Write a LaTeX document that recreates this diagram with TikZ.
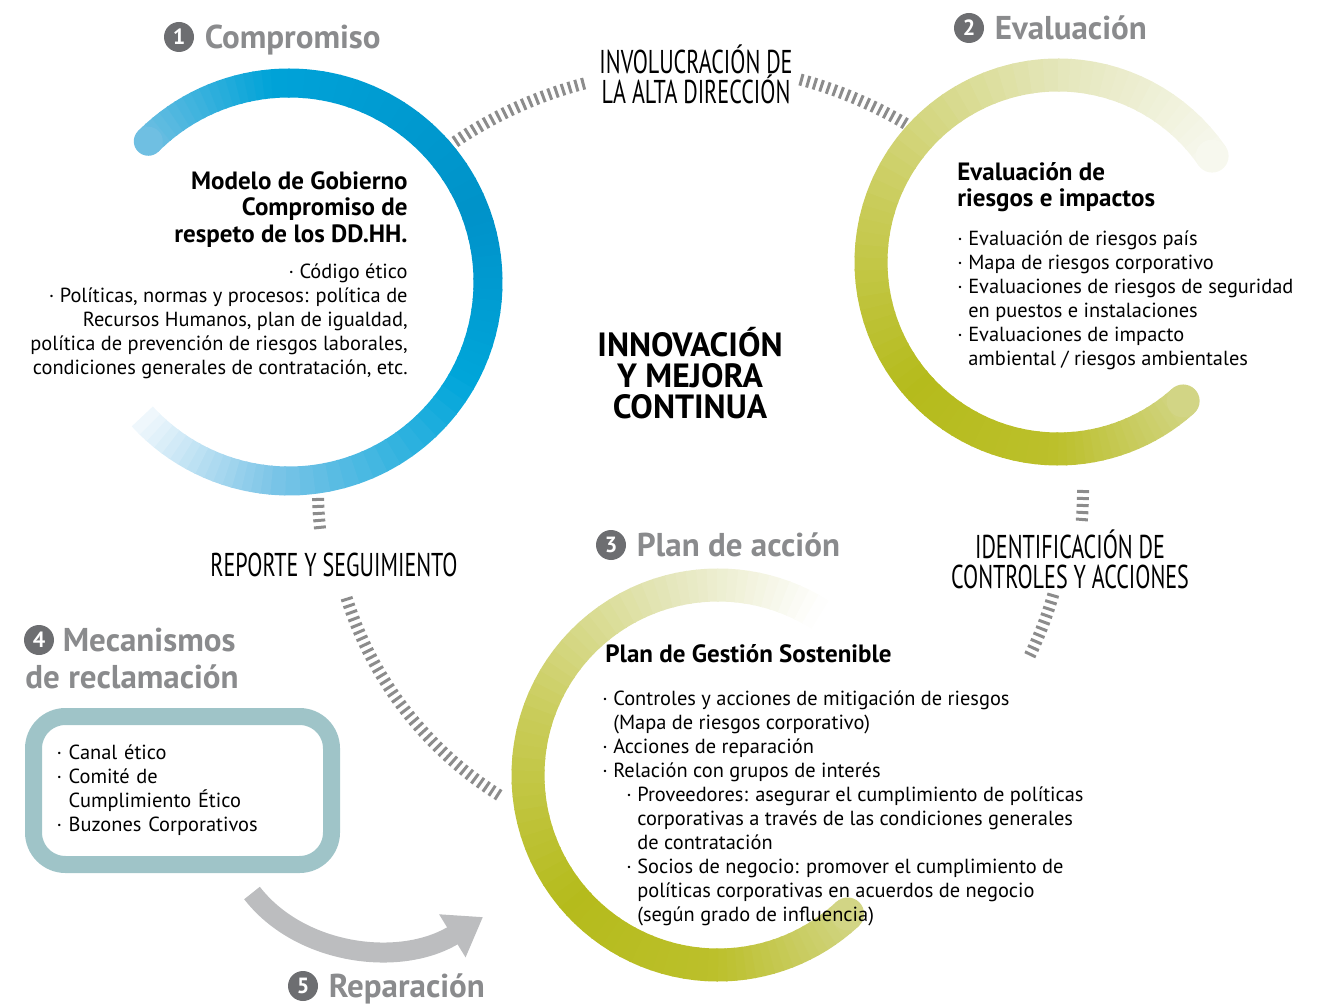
\documentclass[tikz,border=0pt]{standalone}
\usepackage{fontspec}
\setmainfont{PT Sans}
\newfontfamily\condfont[FakeStretch=0.67]{PT Sans}
\usetikzlibrary{arrows.meta,positioning}
\definecolor{blueA}{HTML}{6FBFE2}
\definecolor{blueB}{HTML}{00A3D8}
\definecolor{blueC}{HTML}{0092C9}
\definecolor{blueD}{HTML}{00A6DA}
\definecolor{blueE}{HTML}{7CC5E7}
\definecolor{blueF}{HTML}{F3F9FD}
\definecolor{greenA}{HTML}{D2D585}
\definecolor{greenB}{HTML}{BCC02C}
\definecolor{greenC}{HTML}{B5BB1C}
\definecolor{greenD}{HTML}{CACD5C}
\definecolor{greenE}{HTML}{E4E6BA}
\definecolor{greenF}{HTML}{F7F8EE}
\definecolor{titlegray}{HTML}{8A8B8D}
\definecolor{badgegray}{HTML}{6D6E71}
\definecolor{hatchgray}{HTML}{8C8C8C}
\definecolor{arrowgray}{HTML}{BCBDBF}
\definecolor{boxteal}{HTML}{9FC4C8}
\tikzset{
  hatch/.style={draw=hatchgray, line width=6pt, dash pattern=on 1.5pt off 2pt},
  ringseg/.style={line cap=butt},
  badge/.style={circle, fill=badgegray, text=white, minimum size=15pt, inner sep=0pt,
                font=\fontsize{11}{11}\selectfont\bfseries},
  title/.style={text=titlegray, inner sep=0pt, text height=11.5pt, text depth=0pt,
                font=\fontsize{16.5}{18}\selectfont\bfseries},
  headtext/.style={inner sep=0pt, font=\fontsize{12.5}{13.3}\selectfont\bfseries},
  bodytext/.style={inner sep=0pt, font=\fontsize{10.2}{12}\selectfont},
  steptext/.style={inner sep=0pt, align=center, font=\condfont\fontsize{16.5}{15}\selectfont},
  coretext/.style={inner sep=0pt, align=center, font=\fontsize{16.8}{15.5}\selectfont\bfseries},
  claimbox/.style={draw=boxteal, line width=8.5pt, rounded corners=16pt, align=left},
  reparrow/.style={-{Triangle[length=18pt,width=24pt]}, line width=10pt, draw=arrowgray}
}
% ring piece: centre, radius, from, to, colour from, colour to
\newcommand{\ringpart}[6]{%
  \foreach \k in {0,...,15}{
    \pgfmathsetmacro{\ta}{#3+(#4-#3)*\k/16}
    \pgfmathsetmacro{\tb}{#3+(#4-#3)*(\k+1)/16+0.5}
    \pgfmathtruncatemacro{\mix}{100-100*(\k+0.5)/16}
    \draw[ringseg, draw=#5!\mix!#6] ([shift={(\ta:#2)}]#1) arc[start angle=\ta, end angle=\tb, radius=#2];
  }}
\newcommand{\bul}{·\ }
\newcommand{\hang}{\phantom{\bul}}

\begin{document}
\begin{tikzpicture}[x=0.5pt, y=-0.5pt]
  \useasboundingbox (0,0) rectangle (1325,1004);
  \coordinate (hub) at (690,490);
  \coordinate (ring1) at (289,282);
  \coordinate (ring2) at (1058,262);
  \coordinate (ring3) at (718,775);

  % hatched links round the cycle
  \draw[hatch] ([shift={(-125:420)}]hub) arc[start angle=-125, end angle=-104, radius=420];
  \draw[hatch] ([shift={(-75:425)}]hub) arc[start angle=-75, end angle=-58, radius=425];
  \draw[hatch] ([shift={(0:393)}]hub) arc[start angle=0, end angle=5, radius=393];
  \draw[hatch] ([shift={(16:378)}]hub) arc[start angle=16, end angle=26, radius=378];
  \draw[hatch] ([shift={(122:360)}]hub) arc[start angle=122, end angle=163, radius=360];
  \draw[hatch] ([shift={(174:372)}]hub) arc[start angle=174, end angle=179, radius=372];

  % rings
  \begin{scope}[line width=14.5pt]
    \ringpart{ring1}{199}{-135}{-95}{blueA}{blueB}
    \ringpart{ring1}{199}{-95}{-20}{blueB}{blueC}
    \ringpart{ring1}{199}{-20}{30}{blueC}{blueD}
    \ringpart{ring1}{199}{30}{95}{blueD}{blueE}
    \ringpart{ring1}{199}{95}{137}{blueE}{blueF}
  \end{scope}
  \fill[blueA] ([shift={(-135:199)}]ring1) circle[radius=7.25pt];

  \begin{scope}[line width=16.5pt]
    \ringpart{ring2}{187}{48}{90}{greenA}{greenB}
    \ringpart{ring2}{187}{90}{140}{greenB}{greenC}
    \ringpart{ring2}{187}{140}{200}{greenC}{greenD}
    \ringpart{ring2}{187}{200}{270}{greenD}{greenE}
    \ringpart{ring2}{187}{270}{325}{greenE}{greenF}
    \ringpart{ring3}{190}{47}{90}{greenA}{greenB}
    \ringpart{ring3}{190}{90}{140}{greenB}{greenC}
    \ringpart{ring3}{190}{140}{200}{greenC}{greenD}
    \ringpart{ring3}{190}{200}{255}{greenD}{greenE}
    \ringpart{ring3}{190}{255}{302}{greenE}{white}
  \end{scope}
  \fill[greenA] ([shift={(48:187)}]ring2) circle[radius=8.25pt];
  \fill[greenF] ([shift={(325.5:187)}]ring2) circle[radius=8.25pt];
  \fill[greenA] ([shift={(47:190)}]ring3) circle[radius=8.25pt];

  % titles
  \node[badge] (b1) at (179,37) {1};
  \node[title, right=5pt of b1] (t1) {Compromiso};
  \node[badge] (b2) at (969,28) {2};
  \node[title, right=5pt of b2] (t2) {Evaluación};
  \node[badge] (b3) at (611,545) {3};
  \node[title, right=5pt of b3] (t3) {Plan de acción};
  \node[badge] (b4) at (39,640) {4};
  \node[title, right=4pt of b4] (t4) {Mecanismos};
  \node[title, anchor=base west] (t4b) at (25,688) {de reclamación};
  \node[badge] (b5) at (303,986) {5};
  \node[title, right=5pt of b5] (t5) {Reparación};

  % link labels
  \node[steptext, anchor=north] (mgmt) at (696,44) {INVOLUCRACIÓN DE\\LA ALTA DIRECCIÓN};
  \node[steptext, anchor=north] (report) at (334,553) {REPORTE Y SEGUIMIENTO};
  \node[steptext, anchor=north] (controls) at (1070,529) {IDENTIFICACIÓN DE\\CONTROLES Y ACCIONES};
  \node[coretext, anchor=north] (core) at (690,327) {INNOVACIÓN\\Y MEJORA\\CONTINUA};

  % ring texts
  \node[headtext, align=right, anchor=north east] (govhead) at (408,171)
    {Modelo de Gobierno\\Compromiso de\\respeto de los DD.HH.};
  \node[bodytext, align=right, anchor=north east] (govbody) at (408,263)
    {\bul Código ético\\\bul Políticas, normas y procesos: política de\\Recursos Humanos, plan de igualdad,\\política de prevención de riesgos laborales,\\condiciones generales de contratación, etc.};
  \node[headtext, align=left, anchor=north west] (evalhead) at (957,162)
    {Evaluación de\\riesgos e impactos};
  \node[bodytext, align=left, anchor=north west] (evalbody) at (957,230)
    {\bul Evaluación de riesgos país\\\bul Mapa de riesgos corporativo\\\bul Evaluaciones de riesgos de seguridad\\\hang en puestos e instalaciones\\\bul Evaluaciones de impacto\\\hang ambiental / riesgos ambientales};
  \node[headtext, align=left, anchor=north west] (planhead) at (605,644)
    {Plan de Gestión Sostenible};
  \node[bodytext, align=left, anchor=north west] (planbody) at (602,690.5)
    {\bul Controles y acciones de mitigación de riesgos\\\hang(Mapa de riesgos corporativo)\\\bul Acciones de reparación\\\bul Relación con grupos de interés\\
     \hspace*{12pt}\bul Proveedores: asegurar el cumplimiento de políticas\\\hspace*{12pt}\hang corporativas a través de las condiciones generales\\\hspace*{12pt}\hang de contratación\\
     \hspace*{12pt}\bul Socios de negocio: promover el cumplimiento de\\\hspace*{12pt}\hang políticas corporativas en acuerdos de negocio\\\hspace*{12pt}\hang (según grado de influencia)};

  % claims box and repair arrow
  \node[claimbox, bodytext, text width=126pt, minimum width=149pt, minimum height=74pt] (claims) at (182.5,790.5)
    {\bul Canal ético\\\bul Comité de\\\hang Cumplimiento Ético\\\bul Buzones Corporativos};
  \coordinate (repstart) at (252,893);
  \coordinate (repend) at (483,917);
  \draw[reparrow] (repstart) .. controls (300,955) and (400,968) .. (repend);
\end{tikzpicture}
\end{document}
